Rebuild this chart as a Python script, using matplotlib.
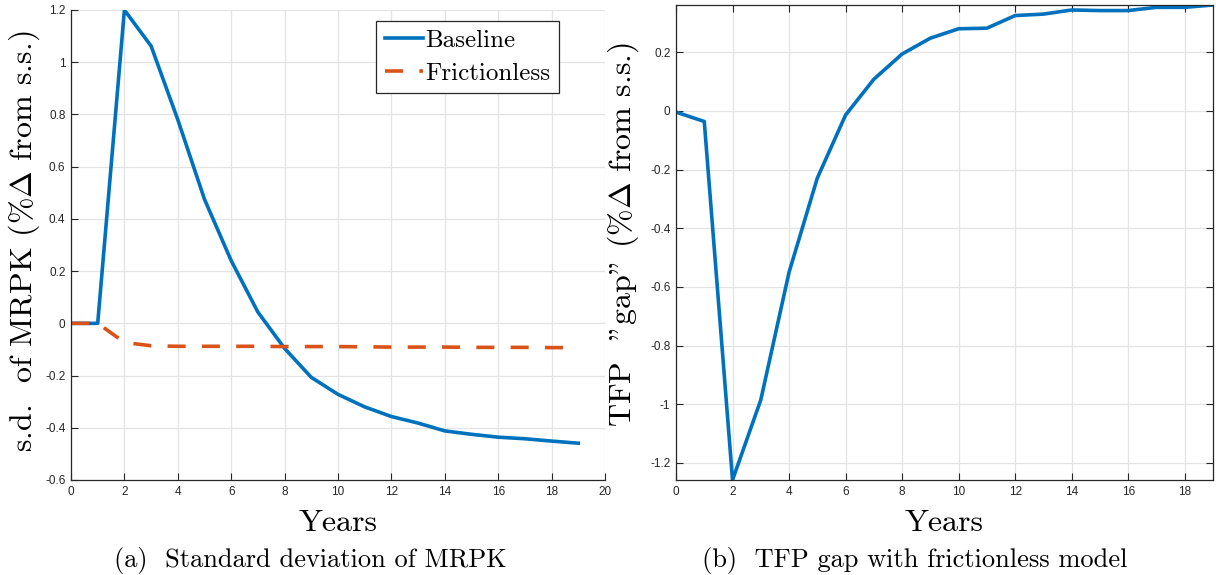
import numpy as np
import matplotlib
matplotlib.use("Agg")
import matplotlib.pyplot as plt
from matplotlib.ticker import FuncFormatter

plt.rcParams['mathtext.fontset'] = 'cm'
plt.rcParams['font.family'] = ['Liberation Sans Narrow', 'Liberation Sans', 'DejaVu Sans']

# data
years = np.arange(20)
baseline = [0, 0, 1.2, 1.062, 0.78, 0.475, 0.24, 0.043, -0.096, -0.207,
            -0.272, -0.32, -0.357, -0.382, -0.412, -0.425, -0.436, -0.442, -0.451, -0.459]
frictionless = [0, 0, -0.073, -0.086, -0.088, -0.088, -0.088, -0.088, -0.089, -0.089,
                -0.089, -0.090, -0.091, -0.091, -0.091, -0.092, -0.092, -0.092, -0.093, -0.093]
tfp_gap = [-0.004, -0.036, -1.258, -0.985, -0.55, -0.229, -0.014, 0.108, 0.194, 0.248,
           0.28, 0.282, 0.325, 0.330, 0.344, 0.342, 0.342, 0.353, 0.353, 0.361]

BLUE = '#0072BD'
ORANGE = '#D95319'
DARK = '#262626'
SERIF = 'cmr10'

fmt = FuncFormatter(lambda v, p: f'{v:g}' if abs(v) > 1e-9 else '0')

fig = plt.figure(figsize=(12.16, 5.75), dpi=100)
ax1 = fig.add_axes([71 / 1216, 1 - 480 / 575, 534 / 1216, 470 / 575])
ax2 = fig.add_axes([676 / 1216, 1 - 480 / 575, 537 / 1216, 475 / 575])


def style(ax, box):
    ax.grid(True, color='#e3e3e3', lw=0.9)
    ax.set_axisbelow(True)
    for s in ['left', 'bottom', 'top', 'right']:
        ax.spines[s].set_color(DARK)
        ax.spines[s].set_linewidth(0.9)
    if not box:
        ax.spines['top'].set_visible(False)
        ax.spines['right'].set_visible(False)
    ax.tick_params(direction='in', length=5, width=0.8, colors=DARK,
                   labelsize=8.5, top=box, right=box, pad=4)
    ax.xaxis.set_major_formatter(fmt)
    ax.yaxis.set_major_formatter(fmt)


# (a) standard deviation of MRPK
ax1.plot(years, baseline, color=BLUE, lw=2.6, label='Baseline')
ax1.plot(years, frictionless, color=ORANGE, lw=2.6, dashes=(5, 4.5), label='Frictionless')
ax1.set_xlim(0, 20)
ax1.set_ylim(-0.6, 1.2)
ax1.set_xticks(np.arange(0, 21, 2))
ax1.set_yticks(np.arange(-0.6, 1.21, 0.2))
style(ax1, False)
ax1.set_xlabel('Years', fontfamily=SERIF, fontsize=23)
ax1.set_ylabel(r's.d.  of MRPK (%$\Delta$ from s.s.)', fontfamily=SERIF, fontsize=23)
ax1.xaxis.set_label_coords(0.5, -0.062)
ax1.yaxis.set_label_coords(-0.055, 0.509)
leg = ax1.legend(loc='upper right', bbox_to_anchor=(0.914, 0.977), borderaxespad=0,
                 fancybox=False, edgecolor=DARK, framealpha=1,
                 prop={'family': SERIF, 'size': 18},
                 handlelength=1.5, handletextpad=0.1, borderpad=0.35, labelspacing=0.4)
leg.get_frame().set_linewidth(0.9)

# (b) TFP gap with frictionless model
ax2.plot(years, tfp_gap, color=BLUE, lw=2.6)
ax2.set_xlim(0, 19)
ax2.set_ylim(-1.258, 0.361)
ax2.set_xticks(np.arange(0, 19, 2))
ax2.set_yticks(np.arange(-1.2, 0.21, 0.2))
style(ax2, True)
ax2.set_xlabel('Years', fontfamily=SERIF, fontsize=23)
ax2.set_ylabel(r'TFP  "gap" (%$\Delta$ from s.s.)', fontfamily=SERIF, fontsize=23)
ax2.xaxis.set_label_coords(0.5, -0.062)
ax2.yaxis.set_label_coords(-0.065, 0.518)

fig.text(310 / 1216, 1 - 560 / 575, '(a)  Standard deviation of MRPK',
         fontfamily=SERIF, fontsize=19, ha='center', va='center')
fig.text(915 / 1216, 1 - 560 / 575, '(b)  TFP gap with frictionless model',
         fontfamily=SERIF, fontsize=19, ha='center', va='center')

fig.savefig('out.png', dpi=100)
